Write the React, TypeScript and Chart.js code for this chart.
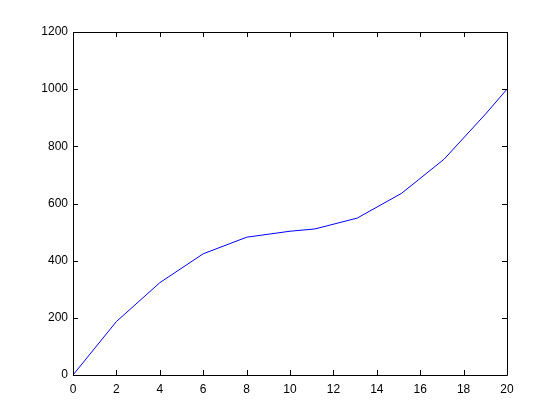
import React, { useEffect, useRef } from "react";
import { Chart, registerables } from "chart.js";

Chart.register(...registerables);

const xValues = [0, 2, 4, 6, 8, 10, 11.15, 13.1, 15.15, 17.1, 19, 20];
const yValues = [0, 187, 323, 424, 482, 503, 511, 549, 636, 755, 912, 1000];
const xTicks = [0, 2, 4, 6, 8, 10, 12, 14, 16, 18, 20];
const yTicks = [0, 200, 400, 600, 800, 1000, 1200];

const boxPlugin = {
  id: "matlabBox",
  afterDraw(chart: any) {
    const { ctx, chartArea } = chart;
    const { left, right, top, bottom } = chartArea;
    const xs = chart.scales.x;
    const ys = chart.scales.y;
    ctx.save();
    ctx.strokeStyle = "#000";
    ctx.lineWidth = 1;
    ctx.beginPath();
    ctx.rect(Math.round(left) + 0.5, Math.round(top) + 0.5, Math.round(right - left), Math.round(bottom - top));
    const tl = 5;
    xs.ticks.forEach((t: any) => {
      const px = Math.round(xs.getPixelForValue(t.value)) + 0.5;
      ctx.moveTo(px, bottom);
      ctx.lineTo(px, bottom - tl);
      ctx.moveTo(px, top);
      ctx.lineTo(px, top + tl);
    });
    ys.ticks.forEach((t: any) => {
      const py = Math.round(ys.getPixelForValue(t.value)) + 0.5;
      ctx.moveTo(left, py);
      ctx.lineTo(left + tl, py);
      ctx.moveTo(right, py);
      ctx.lineTo(right - tl, py);
    });
    ctx.stroke();
    ctx.restore();
  },
};

export default function App() {
  const ref = useRef<HTMLCanvasElement>(null);
  useEffect(() => {
    document.body.style.margin = "0";
    const canvas = ref.current!;
    const chart = new Chart(canvas, {
      type: "line",
      data: {
        datasets: [
          {
            data: xValues.map((x, i) => ({ x, y: yValues[i] })),
            borderColor: "#0000ff",
            borderWidth: 1,
            pointRadius: 0,
            tension: 0,
            fill: false,
          },
        ],
      },
      options: {
        animation: false,
        responsive: false,
        maintainAspectRatio: false,
        layout: { padding: { top: 32, right: 53, left: 0, bottom: 0 } },
        plugins: { legend: { display: false }, tooltip: { enabled: false } },
        scales: {
          x: {
            type: "linear",
            min: 0,
            max: 20,
            afterBuildTicks: (s: any) => {
              s.ticks = xTicks.map((v) => ({ value: v }));
            },
            afterFit: (s: any) => {
              s.height = 45;
            },
            grid: { display: false, drawTicks: false },
            border: { display: false },
            ticks: {
              color: "#000",
              padding: 7,
              maxRotation: 0,
              autoSkip: false,
              callback: (v: any) => String(v),
              font: { family: "Liberation Sans, Arial, sans-serif", size: 12 },
            },
          },
          y: {
            type: "linear",
            min: 0,
            max: 1200,
            afterBuildTicks: (s: any) => {
              s.ticks = yTicks.map((v) => ({ value: v }));
            },
            afterFit: (s: any) => {
              s.width = 73;
            },
            grid: { display: false, drawTicks: false },
            border: { display: false },
            ticks: {
              color: "#000",
              padding: 5,
              autoSkip: false,
              callback: (v: any) => String(v),
              font: { family: "Liberation Sans, Arial, sans-serif", size: 12 },
            },
          },
        },
      },
      plugins: [boxPlugin],
    });
    return () => chart.destroy();
  }, []);
  return (
    <div style={{ width: 560, height: 420, background: "#fff" }}>
      <canvas ref={ref} width={560} height={420} style={{ display: "block" }} />
    </div>
  );
}
